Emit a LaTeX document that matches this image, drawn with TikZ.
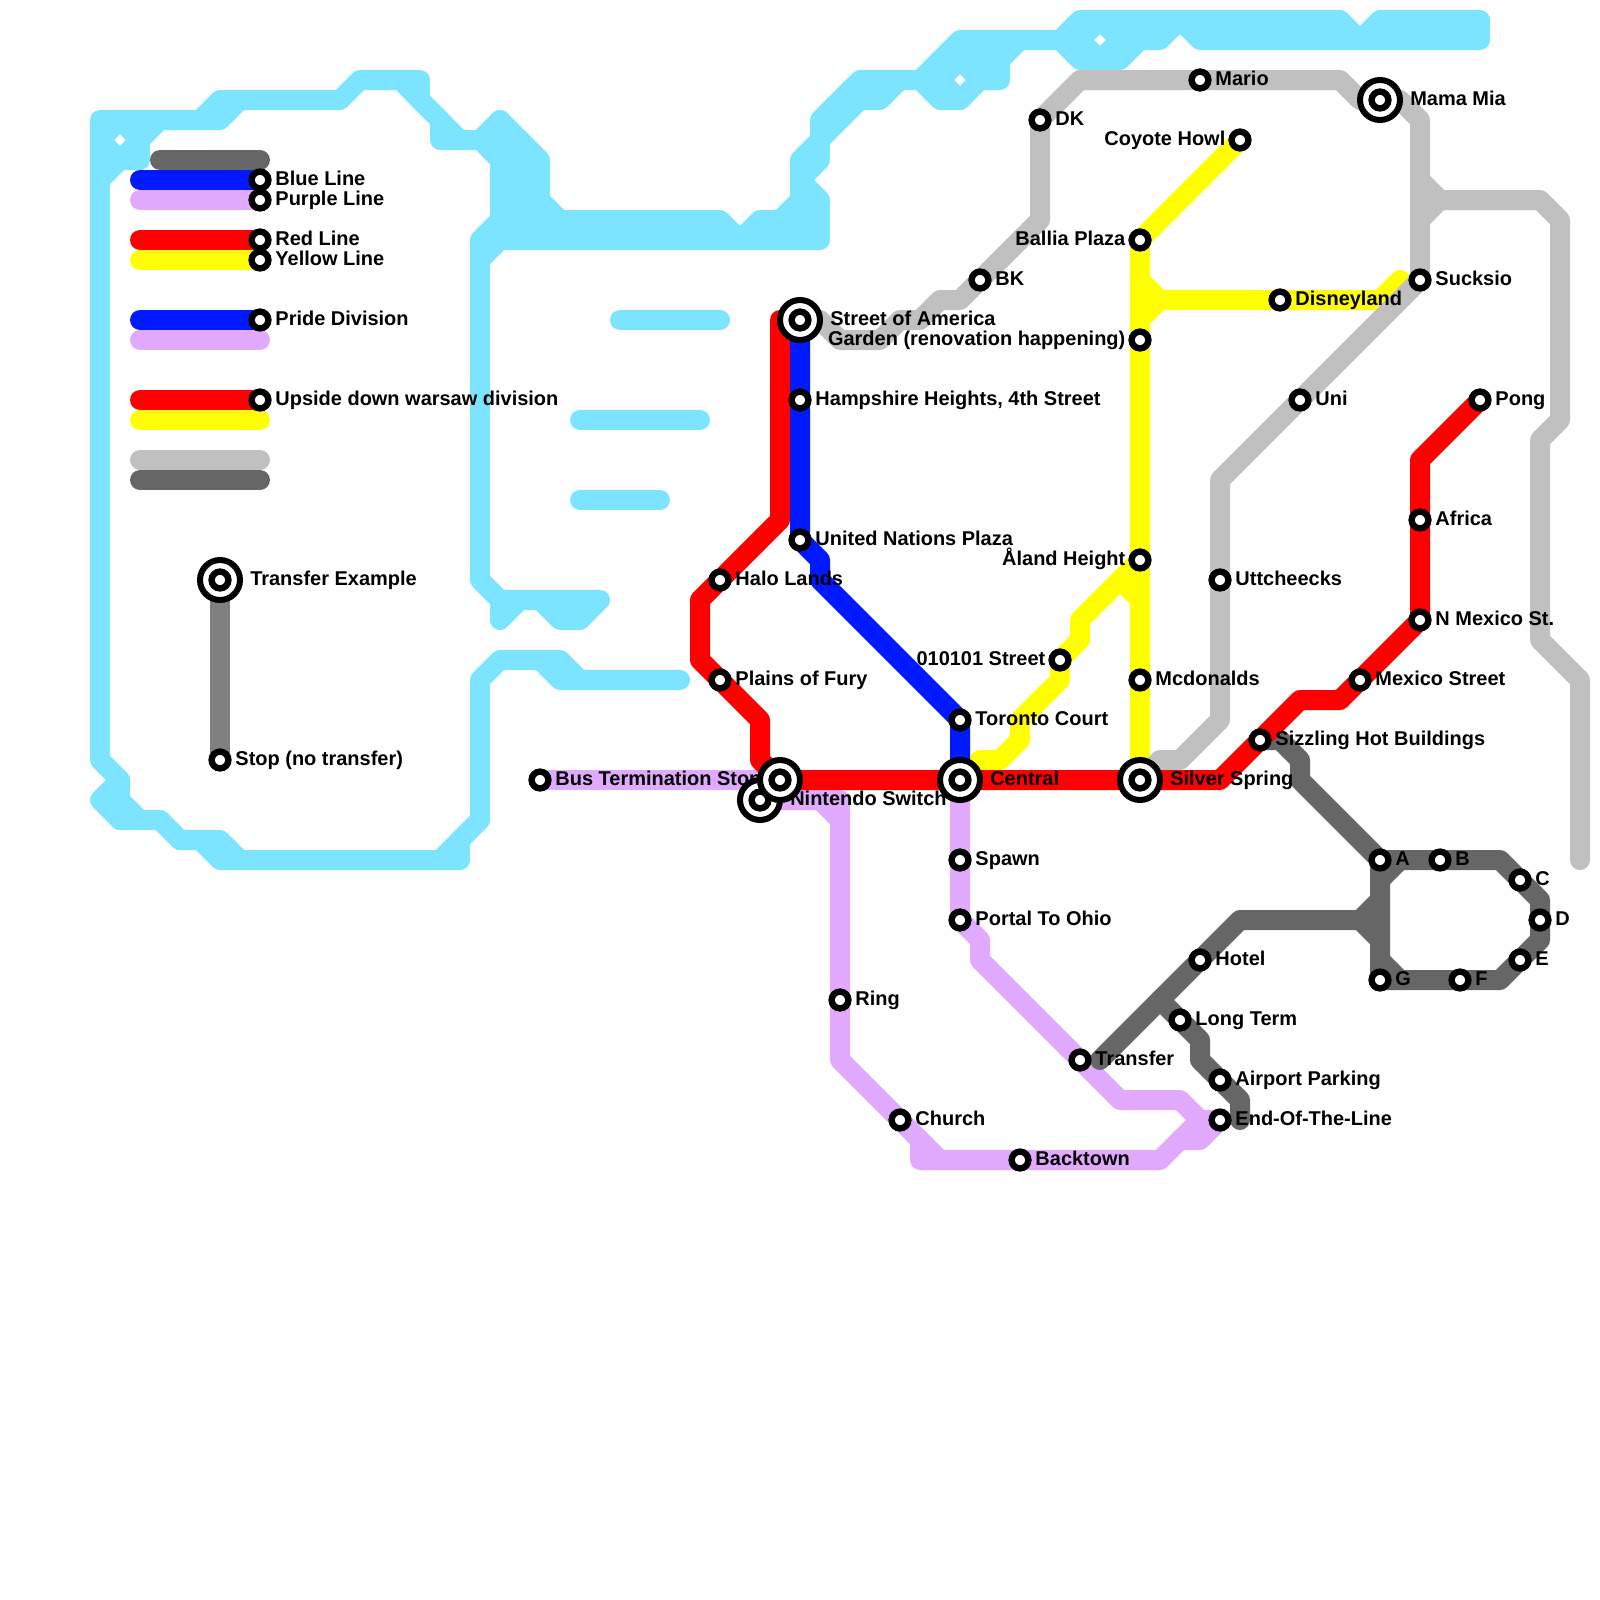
\documentclass[tikz,border=0pt]{standalone}
\usepackage{fontspec}
\setmainfont{Liberation Sans}
\usetikzlibrary{positioning}
\definecolor{metroCyan}{HTML}{7CE4FF}
\definecolor{metroBlue}{HTML}{0019FF}
\definecolor{metroPurple}{HTML}{E2AAFF}
\definecolor{metroRed}{HTML}{FF0000}
\definecolor{metroYellow}{HTML}{FFFF00}
\definecolor{metroSilver}{HTML}{C0C0C0}
\definecolor{metroDark}{HTML}{666666}
\definecolor{metroGrey}{HTML}{808080}
\pgfdeclarelayer{lines}
\pgfdeclarelayer{names}
\pgfsetlayers{lines,names,main}
\tikzset{
  metro/line/.style={line width=5mm, line cap=round, line join=round},
  metro/cyan/.style={metro/line, metroCyan},
  metro/blue/.style={metro/line, metroBlue},
  metro/purple/.style={metro/line, metroPurple},
  metro/red/.style={metro/line, metroRed},
  metro/yellow/.style={metro/line, metroYellow},
  metro/silver/.style={metro/line, metroSilver},
  metro/dark/.style={metro/line, metroDark},
  metro/grey/.style={metro/line, metroGrey},
  metro/stop/.style={draw, circle, fill=white, line width=1.6mm, inner sep=0pt, outer sep=0pt, minimum size=4.2mm},
  metro/xfer/.style={draw, circle, fill=white, line width=1.5mm, inner sep=0pt, outer sep=0pt, minimum size=10mm,
    path picture={\draw[line width=1.6mm] (path picture bounding box.center) circle (2.1mm);}},
  metro/name/.style={inner sep=0pt, text height=4mm, text depth=1.5mm, font=\fontsize{14.2}{16}\selectfont\bfseries}
}
\begin{document}
\begin{tikzpicture}[x=5mm, y=-5mm, node distance=1.7mm]
  \useasboundingbox (0,0) rectangle (80,80);
  % key
  \node[metro/stop] (keyblue) at (13,9) {};
  \node[metro/stop] (keypurple) at (13,10) {};
  \node[metro/stop] (keyred) at (13,12) {};
  \node[metro/stop] (keyyellow) at (13,13) {};
  \node[metro/stop] (keypride) at (13,16) {};
  \node[metro/stop] (keywarsaw) at (13,20) {};
  \node[metro/xfer] (keyxfer) at (11,29) {};
  \node[metro/stop] (keystop) at (11,38) {};
  % blue and red
  \node[metro/xfer] (street) at (40,16) {};
  \node[metro/stop] (hampshire) at (40,20) {};
  \node[metro/stop] (nations) at (40,27) {};
  \node[metro/stop] (toronto) at (48,36) {};
  \node[metro/stop] (halo) at (36,29) {};
  \node[metro/stop] (plains) at (36,34) {};
  \node[metro/xfer] (nintendo) at (38,40) {};
  \node[metro/xfer] (redturn) at (39,39) {};
  \node[metro/xfer] (central) at (48,39) {};
  \node[metro/xfer] (silver) at (57,39) {};
  \node[metro/stop] (sizzling) at (63,37) {};
  \node[metro/stop] (mexico) at (68,34) {};
  \node[metro/stop] (nmexico) at (71,31) {};
  \node[metro/stop] (africa) at (71,26) {};
  \node[metro/stop] (pong) at (74,20) {};
  % purple
  \node[metro/stop] (bus) at (27,39) {};
  \node[metro/stop] (spawn) at (48,43) {};
  \node[metro/stop] (ohio) at (48,46) {};
  \node[metro/stop] (ring) at (42,50) {};
  \node[metro/stop] (church) at (45,56) {};
  \node[metro/stop] (backtown) at (51,58) {};
  \node[metro/stop] (transfer) at (54,53) {};
  \node[metro/stop] (endline) at (61,56) {};
  % dark
  \node[metro/stop] (hotel) at (60,48) {};
  \node[metro/stop] (longterm) at (59,51) {};
  \node[metro/stop] (airport) at (61,54) {};
  \node[metro/stop] (stopa) at (69,43) {};
  \node[metro/stop] (stopb) at (72,43) {};
  \node[metro/stop] (stopc) at (76,44) {};
  \node[metro/stop] (stopd) at (77,46) {};
  \node[metro/stop] (stope) at (76,48) {};
  \node[metro/stop] (stopf) at (73,49) {};
  \node[metro/stop] (stopg) at (69,49) {};
  % yellow
  \node[metro/stop] (coyote) at (62,7) {};
  \node[metro/stop] (ballia) at (57,12) {};
  \node[metro/stop] (garden) at (57,17) {};
  \node[metro/stop] (aland) at (57,28) {};
  \node[metro/stop] (mcdonalds) at (57,34) {};
  \node[metro/stop] (binary) at (53,33) {};
  \node[metro/stop] (disney) at (64,15) {};
  % silver
  \node[metro/stop] (bk) at (49,14) {};
  \node[metro/stop] (dk) at (52,6) {};
  \node[metro/stop] (mario) at (60,4) {};
  \node[metro/xfer] (mama) at (69,5) {};
  \node[metro/stop] (sucksio) at (71,14) {};
  \node[metro/stop] (uni) at (65,20) {};
  \node[metro/stop] (utt) at (61,29) {};
  \begin{pgfonlayer}{lines}
    % water
    \draw[metro/cyan] (34,34) -- (28,34) -- (27,33);
    \draw[metro/cyan] (29,34) -- (28,33) -- (25,33) -- (24,34) -- (24,41) -- (23,42) -- (23,43) -- (11,43) -- (10,42) -- (9,42) -- (8,41) -- (6,41) -- (5,40) -- (6,39) -- (5,38) -- (5,6) -- (11,6) -- (12,5);
    \draw[metro/cyan] (10,6) -- (11,5) -- (17,5) -- (18,4) -- (21,4) -- (21,5) -- (23,7);
    \draw[metro/cyan] (22,43) -- (24,41);
    \draw[metro/cyan] (6,39) -- (6,41);
    \draw[metro/cyan] (6,40) -- (7,41);
    \draw[metro/cyan] (8,41) -- (9,42) -- (11,42) -- (12,43);
    \draw[metro/cyan] (11,42.5) -- (11.5,42.5);
    \draw[metro/cyan] (8,6) -- (7,7) -- (7,8) -- (6,8) -- (5,9);
    \draw[metro/cyan] (5,7) -- (6,6) -- (7,7) -- (6,8) -- cycle;
    \draw[metro/cyan] (20,4) -- (22,6) -- (22,7) -- (24,7) -- (25,8) -- (25,11) -- (24,12) -- (24,29) -- (25,30) -- (30,30) -- (29,31) -- (28,31) -- (27,30) -- (26,30) -- (25,31) -- (25,30);
    \draw[metro/cyan] (24,7) -- (25,6) -- (27,8) -- (27,10) -- (28,11) -- (36,11) -- (37,12) -- (38,11) -- (39,11) -- (40,10) -- (40,8) -- (41,7) -- (41,6) -- (43,4) -- (46,4) -- (48,2) -- (53,2) -- (54,1) -- (67,1) -- (68,2) -- (69,1) -- (74,1) -- (74,2) -- (60,2) -- (59,1) -- (58,2) -- (57,2) -- (56,3) -- (54,3) -- (53,2);
    \draw[metro/cyan] (25,6) -- (25,8);
    \draw[metro/cyan] (25.5,7) -- (25.5,11.5);
    \draw[metro/cyan] (26,7) -- (26,12);
    \draw[metro/cyan] (26.5,8) -- (26.5,11.5);
    \draw[metro/cyan] (27,10) -- (27,12);
    \draw[metro/cyan] (25,11.5) -- (36,11.5);
    \draw[metro/cyan] (39,11.5) -- (40,11.5);
    \draw[metro/cyan] (24,13) -- (25,12) -- (41,12) -- (41,10) -- (40,9) -- (41,8) -- (41,7) -- (43,5) -- (44,5) -- (45,4);
    \draw[metro/cyan] (40,10) -- (40,12);
    \draw[metro/cyan] (40.5,10.5) -- (40.5,11.5);
    \draw[metro/cyan] (46,4) -- (47,5) -- (48,5) -- (49,4) -- (50,4) -- (50,3) -- (51,2);
    \draw[metro/cyan] (47,4) -- (48,3) -- (49,4) -- (48,5) -- cycle;
    \draw[metro/cyan] (49,2) -- (49,4);
    \draw[metro/cyan] (47,3) -- (50,3);
    \draw[metro/cyan] (54,2) -- (55,1) -- (56,2) -- (55,3) -- cycle;
    \draw[metro/cyan] (56,2) -- (57,2);
    \draw[metro/cyan] (61,1.5) -- (66.5,1.5);
    \draw[metro/cyan] (69.5,1.5) -- (74,1.5);
    \draw[metro/cyan] (31,16) -- (36,16);
    \draw[metro/cyan] (29,21) -- (35,21);
    \draw[metro/cyan] (29,25) -- (33,25);
    % key lines
    \draw[metro/dark] (8,8) -- (13,8);
    \draw[metro/blue] (7,9) -- (keyblue.center);
    \draw[metro/purple] (7,10) -- (keypurple.center);
    \draw[metro/red] (7,12) -- (keyred.center);
    \draw[metro/yellow] (7,13) -- (keyyellow.center);
    \draw[metro/blue] (7,16) -- (keypride.center);
    \draw[metro/purple] (7,17) -- (13,17);
    \draw[metro/red] (7,20) -- (keywarsaw.center);
    \draw[metro/yellow] (7,21) -- (13,21);
    \draw[metro/silver] (7,23) -- (13,23);
    \draw[metro/dark] (7,24) -- (13,24);
    \draw[metro/grey, line cap=butt] (keyxfer.center) -- (keystop.center);
    % yellow
    \draw[metro/yellow] (coyote.center) -- (ballia.center) -- (garden.center) -- (aland.center) -- (mcdonalds.center) -- (silver.center);
    \draw[metro/yellow] (57,14) -- (58,15) -- (disney.center) -- (69,15) -- (70,14);
    \draw[metro/yellow] (58,15) -- (57,16);
    \draw[metro/yellow] (aland.center) -- (54,31) -- (54,32) -- (binary.center) -- (53,34) -- (51,36) -- (51,37) -- (50,38) -- (49,38) -- (central.center);
    \draw[metro/yellow] (56,29) -- (57,30);
    % silver
    \draw[metro/silver] (street.center) -- (41,16) -- (42,17) -- (44,17) -- (45,16) -- (46,16) -- (47,15) -- (48,15) -- (bk.center) -- (52,11) -- (dk.center) -- (54,4) -- (mario.center) -- (67,4) -- (68,5) -- (mama.center) -- (70,5) -- (71,6) -- (sucksio.center) -- (uni.center) -- (61,24) -- (utt.center) -- (61,36) -- (59,38) -- (58,38) -- (silver.center);
    \draw[metro/silver] (71,9) -- (72,10) -- (71,11);
    \draw[metro/silver] (72,10) -- (77,10) -- (78,11) -- (78,21) -- (77,22) -- (77,32) -- (79,34) -- (79,43);
    % purple
    \draw[metro/purple] (bus.center) -- (redturn.center);
    \draw[metro/purple] (nintendo.center) -- (42,40) -- (ring.center) -- (42,53) -- (church.center) -- (46,57) -- (46,58) -- (backtown.center) -- (58,58) -- (60,56) -- (endline.center);
    \draw[metro/purple] (41,40) -- (42,41);
    \draw[metro/purple] (46,57) -- (47,58);
    \draw[metro/purple] (59,57) -- (60,57) -- (endline.center);
    \draw[metro/purple] (central.center) -- (spawn.center) -- (ohio.center) -- (49,47) -- (49,48) -- (transfer.center) -- (56,55) -- (59,55) -- (60,56);
    % blue
    \draw[metro/blue] (street.center) -- (hampshire.center) -- (nations.center) -- (41,28) -- (41,29) -- (toronto.center) -- (central.center);
    % dark
    \draw[metro/dark] (sizzling.center) -- (64,37) -- (65,38) -- (65,39) -- (stopa.center) -- (stopb.center) -- (75,43) -- (stopc.center) -- (77,45) -- (stopd.center) -- (77,47) -- (stope.center) -- (75,49) -- (stopf.center) -- (stopg.center) -- (stopa.center);
    \draw[metro/dark] (70,43) -- (69,44);
    \draw[metro/dark] (69,48) -- (70,49);
    \draw[metro/dark] (69,45) -- (68,46) -- (69,47);
    \draw[metro/dark] (68,46) -- (62,46) -- (hotel.center) -- (55,53);
    \draw[metro/dark] (58,50) -- (longterm.center) -- (60,52) -- (60,53) -- (airport.center) -- (62,55) -- (62,56);
    % red
    \draw[metro/red] (39,16) -- (39,26) -- (halo.center) -- (35,30) -- (35,33) -- (plains.center) -- (38,36) -- (38,38) -- (redturn.center) -- (central.center) -- (silver.center) -- (61,39) -- (sizzling.center) -- (65,35) -- (67,35) -- (mexico.center) -- (nmexico.center) -- (africa.center) -- (71,23) -- (pong.center);
  \end{pgfonlayer}
  \begin{pgfonlayer}{names}
    \node[metro/name, right=of keyblue] (tkeyblue) {Blue Line};
    \node[metro/name, right=of keypurple] (tkeypurple) {Purple Line};
    \node[metro/name, right=of keyred] (tkeyred) {Red Line};
    \node[metro/name, right=of keyyellow] (tkeyyellow) {Yellow Line};
    \node[metro/name, right=of keypride] (tkeypride) {Pride Division};
    \node[metro/name, right=of keywarsaw] (tkeywarsaw) {Upside down warsaw division};
    \node[metro/name, right=2.5mm of keyxfer] (tkeyxfer) {Transfer Example};
    \node[metro/name, right=of keystop] (tkeystop) {Stop (no transfer)};
    \node[metro/name, right=2.5mm of street] (tstreet) {Street of America};
    \node[metro/name, right=of hampshire] (thampshire) {Hampshire Heights, 4th Street};
    \node[metro/name, right=of nations] (tnations) {United Nations Plaza};
    \node[metro/name, right=of toronto] (ttoronto) {Toronto Court};
    \node[metro/name, right=of halo] (thalo) {Halo Lands};
    \node[metro/name, right=of plains] (tplains) {Plains of Fury};
    \node[metro/name, right=2.5mm of nintendo] (tnintendo) {Nintendo Switch};
    \node[metro/name, right=2.5mm of central] (tcentral) {Central};
    \node[metro/name, right=2.5mm of silver] (tsilver) {Silver Spring};
    \node[metro/name, right=of sizzling] (tsizzling) {Sizzling Hot Buildings};
    \node[metro/name, right=of mexico] (tmexico) {Mexico Street};
    \node[metro/name, right=of nmexico] (tnmexico) {N Mexico St.};
    \node[metro/name, right=of africa] (tafrica) {Africa};
    \node[metro/name, right=of pong] (tpong) {Pong};
    \node[metro/name, right=of bus] (tbus) {Bus Termination Stop};
    \node[metro/name, right=of spawn] (tspawn) {Spawn};
    \node[metro/name, right=of ohio] (tohio) {Portal To Ohio};
    \node[metro/name, right=of ring] (tring) {Ring};
    \node[metro/name, right=of church] (tchurch) {Church};
    \node[metro/name, right=of backtown] (tbacktown) {Backtown};
    \node[metro/name, right=of transfer] (ttransfer) {Transfer};
    \node[metro/name, right=of endline] (tendline) {End-Of-The-Line};
    \node[metro/name, right=of hotel] (thotel) {Hotel};
    \node[metro/name, right=of longterm] (tlongterm) {Long Term};
    \node[metro/name, right=of airport] (tairport) {Airport Parking};
    \node[metro/name, right=of stopa] (tstopa) {A};
    \node[metro/name, right=of stopb] (tstopb) {B};
    \node[metro/name, right=of stopc] (tstopc) {C};
    \node[metro/name, right=of stopd] (tstopd) {D};
    \node[metro/name, right=of stope] (tstope) {E};
    \node[metro/name, right=of stopf] (tstopf) {F};
    \node[metro/name, right=of stopg] (tstopg) {G};
    \node[metro/name, left=1.5mm of coyote] (tcoyote) {Coyote Howl};
    \node[metro/name, left=1.5mm of ballia] (tballia) {Ballia Plaza};
    \node[metro/name, left=1.5mm of garden] (tgarden) {Garden (renovation happening)};
    \node[metro/name, left=1.5mm of aland] (taland) {Åland Height};
    \node[metro/name, left=1.5mm of binary] (tbinary) {010101 Street};
    \node[metro/name, right=of mcdonalds] (tmcdonalds) {Mcdonalds};
    \node[metro/name, right=of disney] (tdisney) {Disneyland};
    \node[metro/name, right=of bk] (tbk) {BK};
    \node[metro/name, right=of dk] (tdk) {DK};
    \node[metro/name, right=of mario] (tmario) {Mario};
    \node[metro/name, right=2.5mm of mama] (tmama) {Mama Mia};
    \node[metro/name, right=of sucksio] (tsucksio) {Sucksio};
    \node[metro/name, right=of uni] (tuni) {Uni};
    \node[metro/name, right=of utt] (tutt) {Uttcheecks};
  \end{pgfonlayer}
\end{tikzpicture}
\end{document}
